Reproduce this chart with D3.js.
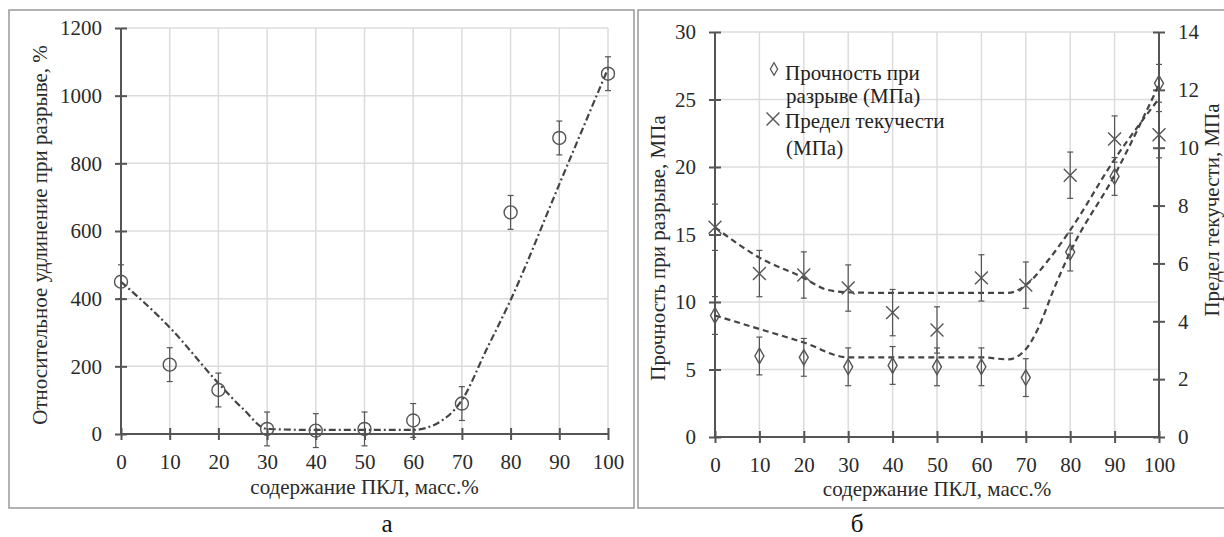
<!DOCTYPE html>
<html>
<head>
<meta charset="utf-8">
<script src="https://cdn.jsdelivr.net/npm/d3@7"></script>
<style>
  body { margin: 0; background: #fff; }
  .grid line { stroke: #dcdcdc; stroke-width: 1.5; }
  .axis path, .axis line { stroke: #555; stroke-width: 2; }
</style>
</head>
<body>
<svg id="chart" width="1224" height="537"></svg>
<script>
// ---- data ----
const pclContent = [0, 10, 20, 30, 40, 50, 60, 70, 80, 90, 100];

// panel а: elongation at break, %
const elongation = [450, 205, 130, 15, 10, 15, 40, 90, 655, 875, 1065];
const elongationErr = [50, 50, 50, 50, 50, 50, 50, 50, 50, 50, 50];
const elongFitX = [0, 10, 20, 25, 30, 40, 50, 60, 65, 70, 75, 80, 90, 100];
const elongFitY = [450, 315, 150, 75, 15, 12, 12, 12, 32, 100, 248, 396, 738, 1080];

// panel б: tensile strength (left axis, MPa) and yield stress (right axis, MPa)
const strength = [9.0, 6.0, 5.9, 5.2, 5.3, 5.2, 5.2, 4.4, 13.7, 19.3, 26.2];
const strengthErr = [1.4, 1.4, 1.4, 1.4, 1.4, 1.4, 1.4, 1.4, 1.4, 1.4, 1.4];
const yieldStress = [7.25, 5.65, 5.6, 5.15, 4.3, 3.7, 5.5, 5.25, 9.05, 10.3, 10.45];
const yieldErr = [0.8, 0.8, 0.8, 0.8, 0.8, 0.8, 0.8, 0.8, 0.8, 0.8, 0.8];
const strengthFitX = [0, 10, 20, 30, 40, 50, 60, 66, 70, 73, 76, 80, 90, 100];
const strengthFitY = [9.0, 8.0, 7.0, 5.9, 5.9, 5.9, 5.9, 5.75, 6.5, 8.2, 10.7, 13.7, 19.4, 26.1];
const yieldFitX = [0, 10, 20, 25, 30, 40, 50, 60, 66, 70, 75, 80, 90, 100];
const yieldFitY = [7.25, 6.2, 5.5, 5.1, 5.0, 4.98, 4.98, 4.98, 4.98, 5.25, 6.1, 7.15, 9.6, 11.7];

const xTicks = [0, 10, 20, 30, 40, 50, 60, 70, 80, 90, 100];
const elongTicks = [0, 200, 400, 600, 800, 1000, 1200];
const strengthTicks = [0, 5, 10, 15, 20, 25, 30];
const yieldTicks = [0, 2, 4, 6, 8, 10, 12, 14];

const xTitle = "содержание ПКЛ, масс.%";
const elongTitle = "Относительное удлинение при разрыве, %";
const strengthTitle = "Прочность при разрыве, МПа";
const yieldTitle = "Предел текучести, МПа";
const legendLines = [["Прочность при", "разрыве (МПа)"], ["Предел текучести", "(МПа)"]];

const serif = "'Liberation Serif', 'Times New Roman', 'DejaVu Serif', serif";
const svg = d3.select("#chart").attr("font-family", serif);
const ink = "#555";
const textInk = "#2a2a2a";

// panel frames
svg.append("rect").attr("x", 9).attr("y", 10).attr("width", 625).attr("height", 498)
    .attr("fill", "none").attr("stroke", "#999").attr("stroke-width", 1.5);
svg.append("rect").attr("x", 638).attr("y", 10).attr("width", 600).attr("height", 498)
    .attr("fill", "none").attr("stroke", "#999").attr("stroke-width", 1.5);

function styleAxis(axisG, horizontal) {
    if (horizontal) axisG.selectAll(".tick line").attr("y1", -6).attr("y2", 6);
    else axisG.selectAll(".tick line").attr("x1", -6).attr("x2", 6);
    axisG.select(".domain").remove();
    axisG.attr("font-family", serif).attr("font-size", 21);
    axisG.selectAll("text").attr("fill", textInk);
}

function drawGrid(g, x, y, yTicks) {
    const [x0, x1] = x.range();
    const [y0, y1] = y.range();
    const grid = g.append("g").attr("class", "grid");
    grid.selectAll("line.v").data(xTicks.slice(1)).join("line").attr("class", "v")
        .attr("x1", d => x(d)).attr("x2", d => x(d)).attr("y1", y0).attr("y2", y1);
    grid.selectAll("line.h").data(yTicks.slice(1)).join("line").attr("class", "h")
        .attr("x1", x0).attr("x2", x1).attr("y1", d => y(d)).attr("y2", d => y(d));
}

function errorBars(g, x, y, vals, errs) {
    const eg = g.append("g").attr("stroke", ink).attr("stroke-width", 1.2);
    pclContent.forEach((c, i) => {
        const cx = x(c), top = y(vals[i] + errs[i]), bot = y(vals[i] - errs[i]);
        eg.append("line").attr("x1", cx).attr("x2", cx).attr("y1", top).attr("y2", bot);
        eg.append("line").attr("x1", cx - 3).attr("x2", cx + 3).attr("y1", top).attr("y2", top);
        eg.append("line").attr("x1", cx - 3).attr("x2", cx + 3).attr("y1", bot).attr("y2", bot);
    });
}

function fitLine(g, x, y, xs, ys, dash) {
    const line = d3.line().x(d => x(d[0])).y(d => y(d[1])).curve(d3.curveMonotoneX);
    g.append("path").datum(d3.zip(xs, ys)).attr("d", line)
        .attr("fill", "none").attr("stroke", "#444").attr("stroke-width", 2.2)
        .attr("stroke-dasharray", dash);
}

function label(g, text, x, y, size, rotate) {
    const t = g.append("text").attr("text-anchor", "middle").attr("font-size", size)
        .attr("fill", textInk).text(text);
    if (rotate) t.attr("transform", `translate(${x},${y}) rotate(-90)`);
    else t.attr("x", x).attr("y", y);
    return t;
}

// ---------------- panel а ----------------
{
    const x = d3.scaleLinear().domain([0, 100]).range([121, 608]);
    const y = d3.scaleLinear().domain([0, 1200]).range([434, 28]);
    const g = svg.append("g");
    drawGrid(g, x, y, elongTicks);

    g.append("line").attr("x1", x(0)).attr("x2", x(0)).attr("y1", y(1200)).attr("y2", y(0))
        .attr("stroke", ink).attr("stroke-width", 2);
    g.append("line").attr("x1", x(0)).attr("x2", x(100)).attr("y1", y(0)).attr("y2", y(0))
        .attr("stroke", ink).attr("stroke-width", 2);

    const ya = g.append("g").attr("class", "axis").attr("transform", `translate(${x(0)},0)`)
        .call(d3.axisLeft(y).tickValues(elongTicks).tickFormat(d3.format("d")).tickSize(6).tickPadding(13));
    styleAxis(ya, false);
    const xa = g.append("g").attr("class", "axis").attr("transform", `translate(0,${y(0)})`)
        .call(d3.axisBottom(x).tickValues(xTicks).tickFormat(d3.format("d")).tickSize(6).tickPadding(14));
    styleAxis(xa, true);

    fitLine(g, x, y, elongFitX, elongFitY, "7,3,2,3");
    errorBars(g, x, y, elongation, elongationErr);
    g.selectAll("circle.pt").data(pclContent).join("circle").attr("class", "pt")
        .attr("cx", d => x(d)).attr("cy", (d, i) => y(elongation[i])).attr("r", 6.5)
        .attr("fill", "none").attr("stroke", ink).attr("stroke-width", 1.4);

    label(g, xTitle, (x(0) + x(100)) / 2, 494, 21, false);
    label(g, elongTitle, 47, 235, 21, true);
    label(g, "а", 387, 532, 25, false).attr("fill", "#111");
}

// ---------------- panel б ----------------
{
    const x = d3.scaleLinear().domain([0, 100]).range([715, 1159]);
    const y = d3.scaleLinear().domain([0, 30]).range([437, 32]);
    const y2 = d3.scaleLinear().domain([0, 14]).range([437, 32]);
    const g = svg.append("g");
    drawGrid(g, x, y, strengthTicks);

    g.append("line").attr("x1", x(0)).attr("x2", x(0)).attr("y1", y(30)).attr("y2", y(0))
        .attr("stroke", ink).attr("stroke-width", 2);
    g.append("line").attr("x1", x(100)).attr("x2", x(100)).attr("y1", y(30)).attr("y2", y(0))
        .attr("stroke", ink).attr("stroke-width", 2);
    g.append("line").attr("x1", x(0)).attr("x2", x(100)).attr("y1", y(0)).attr("y2", y(0))
        .attr("stroke", ink).attr("stroke-width", 2);

    const yl = g.append("g").attr("class", "axis").attr("transform", `translate(${x(0)},0)`)
        .call(d3.axisLeft(y).tickValues(strengthTicks).tickSize(6).tickPadding(13));
    styleAxis(yl, false);
    const yr = g.append("g").attr("class", "axis").attr("transform", `translate(${x(100)},0)`)
        .call(d3.axisRight(y2).tickValues(yieldTicks).tickSize(6).tickPadding(13));
    styleAxis(yr, false);
    const xa = g.append("g").attr("class", "axis").attr("transform", `translate(0,${y(0)})`)
        .call(d3.axisBottom(x).tickValues(xTicks).tickSize(6).tickPadding(14));
    styleAxis(xa, true);

    fitLine(g, x, y, strengthFitX, strengthFitY, "6,4");
    fitLine(g, x, y2, yieldFitX, yieldFitY, "6,4");
    errorBars(g, x, y, strength, strengthErr);
    errorBars(g, x, y2, yieldStress, yieldErr);

    const diamond = d3.symbol().type(d3.symbolDiamond).size(70);
    const smallDiamond = d3.symbol().type(d3.symbolDiamond).size(45);
    const cross = d3.symbol().type(d3.symbolX).size(110);
    g.selectAll("path.dm").data(pclContent).join("path").attr("class", "dm")
        .attr("transform", (d, i) => `translate(${x(d)},${y(strength[i])})`)
        .attr("d", diamond).attr("fill", "none").attr("stroke", ink).attr("stroke-width", 1.4);
    g.selectAll("path.xm").data(pclContent).join("path").attr("class", "xm")
        .attr("transform", (d, i) => `translate(${x(d)},${y2(yieldStress[i])})`)
        .attr("d", cross).attr("fill", "none").attr("stroke", ink).attr("stroke-width", 1.4);

    // legend
    const lg = g.append("g").attr("font-size", 21).attr("fill", "#222");
    lg.append("path").attr("transform", "translate(774,69)").attr("d", smallDiamond)
        .attr("fill", "none").attr("stroke", ink).attr("stroke-width", 1.3);
    lg.append("path").attr("transform", "translate(773,119)").attr("d", cross)
        .attr("fill", "none").attr("stroke", ink).attr("stroke-width", 1.4);
    lg.append("text").attr("x", 785).attr("y", 80).text(legendLines[0][0]);
    lg.append("text").attr("x", 786).attr("y", 103).text(legendLines[0][1]);
    lg.append("text").attr("x", 785).attr("y", 128).text(legendLines[1][0]);
    lg.append("text").attr("x", 786).attr("y", 155).text(legendLines[1][1]);

    label(g, xTitle, (x(0) + x(100)) / 2, 496, 21, false);
    label(g, strengthTitle, 665, 248, 21, true);
    label(g, yieldTitle, 1219, 210, 21, true);
    label(g, "б", 857, 532, 25, false).attr("fill", "#111");
}
</script>
</body>
</html>
